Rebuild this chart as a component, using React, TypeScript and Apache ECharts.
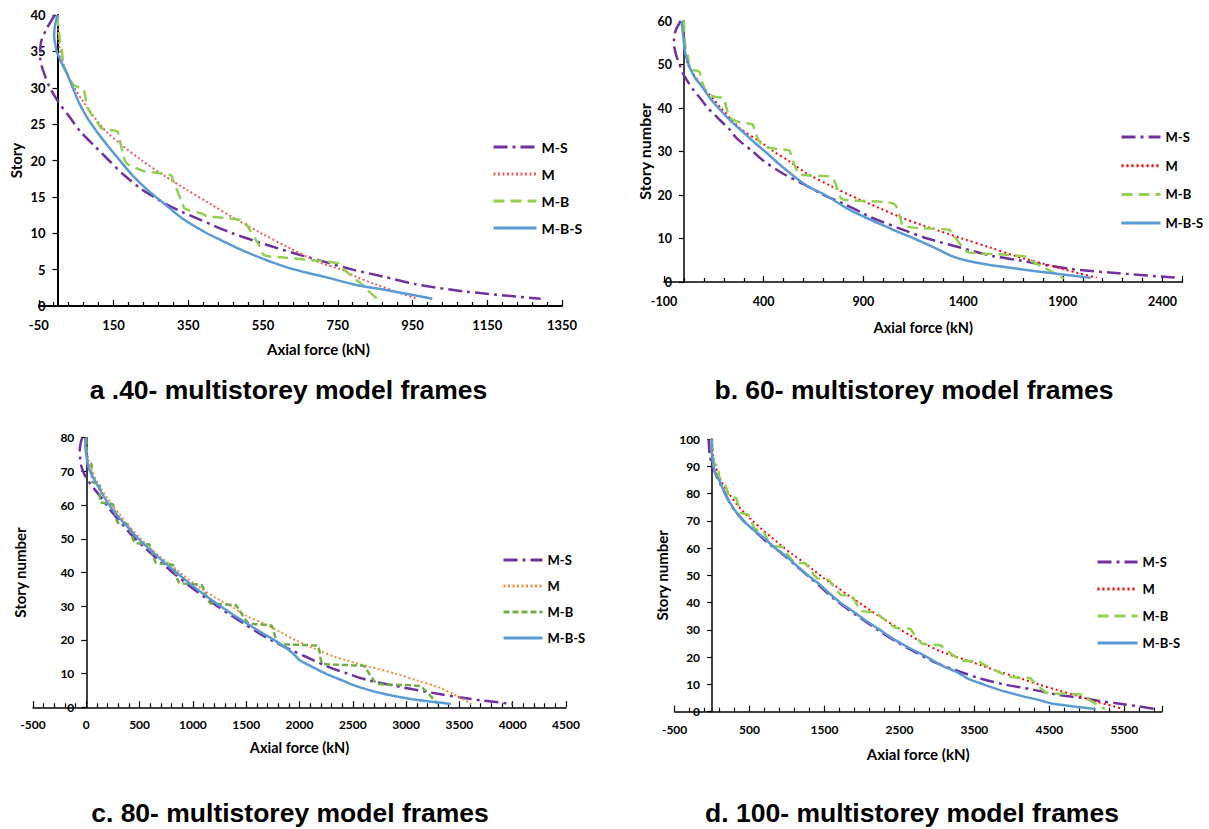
import { useEffect, useRef } from 'react';
import * as echarts from 'echarts';

// ---------- DATA: each pair is [story, axial force (kN)] ----------
const SERIES_NAMES = ['M-S', 'M', 'M-B', 'M-B-S'];
const PANEL_KEYS = ['a', 'b', 'c', 'd'];
const PANEL_TITLES = [
  'a .40- multistorey model frames',
  'b. 60- multistorey model frames',
  'c. 80- multistorey model frames',
  'd. 100- multistorey model frames',
];
const Y_NAMES = ['Story', 'Story number', 'Story number', 'Story number'];
const X_NAME = 'Axial force (kN)';
const X_MIN = [-50, -100, -500, -500];
const X_MAX = [1350, 2500, 4500, 6000];
const X_INTERVAL = [200, 500, 500, 1000];
const X_SHOW_MAX_LABEL = [true, false, true, false];
const Y_MAX = [40, 60, 80, 100];
const Y_INTERVAL = [5, 10, 10, 10];

// Panel a (40 storeys)
const a_MS = [[40,-7],[38,-30],[36,-45],[34,-46],[32,-36],[30,-20],[28,3],[26,32],[24,61],[22,99],[20,138],[18,178],[16,226],[15,258],[14,290],[13,330],[12,375],[11,420],[10,468],[9,525],[8,585],[7,650],[6,720],[5,790],[4,875],[3,958],[2,1090],[1,1293]];
const a_M = [[40,0],[38,2],[36,4],[34,12],[32,25],[30,45],[28,70],[26,98],[24,130],[22,175],[20,226],[18,283],[16,345],[14,410],[12,475],[10,545],[8,620],[6,700],[5,760],[4,800],[3,850],[2,905],[1,961]];
const a_MB = [[40,0],[38,3],[36,8],[35,12],[33,17],[31,35],[30.3,45],[29.8,69],[28,77],[27,83],[25,110],[24.4,118],[24,160],[23.3,164],[20.5,178],[19.6,185],[18.7,222],[18.5,232],[18,303],[17.3,309],[14,335],[13.4,340],[12.7,386],[12.4,398],[11.8,495],[11.5,502],[8.2,541],[7,553],[6.7,600],[6.3,680],[5.9,749],[5.5,755],[2.7,821],[2.3,827],[1,855]];
const a_MBS = [[40,0],[39,-5],[38,-8],[37,-9],[36,-6],[35,-2],[34,6],[33,15],[32,25],[31,33],[30,41],[28,57],[26,78],[24,105],[22,135],[20,167],[18,200],[16,240],[14,287],[12,335],[10,400],[9,440],[8,480],[7,525],[6,575],[5,635],[4,715],[3,790],[2,900],[1,1003]];

// Panel b (60 storeys)
const b_MS = [[60,-15],[58,-40],[56,-50],[54,-48],[52,-38],[50,-22],[48,-5],[46,20],[44,50],[42,86],[40,120],[38,163],[35,230],[33,265],[30,345],[28,395],[25,494],[22,620],[20,700],[18,800],[16,890],[15,930],[14,985],[12,1100],[10,1220],[8,1380],[6,1545],[5,1680],[4,1800],[3,1940],[2,2180],[1,2470]];
const b_M = [[60,0],[57,1],[54,3],[52,8],[50,20],[48,45],[46,75],[44,110],[42,148],[40,185],[37,245],[35,290],[32,390],[30,450],[28,520],[25,615],[22,740],[20,830],[17,980],[15,1080],[13,1200],[10,1395],[8,1530],[6,1660],[4,1820],[3,1900],[2,1980],[1,2070]];
const b_MB = [[60,0],[57,2],[54,8],[52,20],[49.5,27],[48.8,40],[48.4,76],[47.5,84],[45.5,95],[44,110],[42.8,140],[42.2,200],[41.5,205],[38.7,222],[37.5,240],[36.8,275],[36.2,345],[35.5,350],[33.5,365],[31.8,385],[30.8,435],[30.2,530],[29.5,535],[25,572],[24.6,595],[24.3,725],[23.8,748],[19.4,786],[18.9,800],[18.4,1000],[17.8,1058],[14.2,1088],[13,1097],[12.5,1150],[12,1330],[11.5,1340],[7.3,1409],[6.8,1430],[6.3,1600],[5.8,1720],[5.3,1725],[2,1860],[0.8,1905]];
const b_MBS = [[60,-12],[57,-5],[55,0],[53,5],[50,23],[47,55],[45,89],[42,135],[40,173],[37,235],[35,284],[32,355],[30,407],[27,480],[25,533],[22,620],[20,708],[17,815],[15,903],[13,1000],[12,1050],[10,1155],[8,1250],[6,1340],[5,1410],[4,1520],[3,1680],[2,1850],[1,2040]];

// Panel c (80 storeys)
const c_MS = [[80,-40],[78,-55],[76,-62],[74,-58],[72,-50],[70,-30],[68,0],[66,45],[64,95],[62,145],[60,190],[57,265],[55,320],[52,400],[50,460],[47,560],[45,630],[42,740],[40,810],[37,930],[35,1010],[32,1140],[30,1230],[27,1370],[25,1470],[22,1620],[20,1730],[17,1920],[15,2060],[12,2270],[10,2450],[8,2650],[6,2950],[4,3300],[3,3500],[2,3720],[1,4000]];
const c_M = [[80,0],[77,5],[75,10],[72,30],[70,55],[67,100],[65,135],[62,200],[60,245],[57,320],[55,365],[52,450],[50,510],[47,610],[45,680],[42,800],[40,880],[37,1000],[35,1090],[32,1240],[30,1360],[27,1510],[25,1660],[22,1840],[20,1960],[17,2170],[15,2330],[14,2430],[12,2660],[10,2900],[8,3100],[6,3300],[4,3440],[3,3500],[2,3560],[1,3610]];
const c_MB = [[80,0],[77,3],[74,8],[73,12],[72.7,25],[72.3,45],[71.8,50],[67,55],[66.7,70],[66.3,120],[65.8,125],[61,130],[60.7,150],[60.3,245],[59.8,255],[55,290],[54.7,305],[54.3,390],[53.8,400],[49,450],[48.7,480],[48.3,590],[47.8,600],[43,650],[42.7,690],[42.3,810],[41.8,820],[37,870],[36.7,920],[36.3,1080],[35.8,1090],[31,1160],[30.7,1210],[30.3,1405],[29.8,1415],[25,1520],[24.7,1570],[24.3,1735],[23.8,1745],[19,1800],[18.7,1860],[18.3,2170],[17.8,2180],[13,2215],[12.7,2290],[12.3,2600],[11.8,2615],[7.2,2720],[6.8,2780],[6.4,3120],[5.9,3150],[1,3300]];
const c_MBS = [[80,-10],[77,-8],[75,0],[72,15],[70,36],[67,85],[65,120],[62,175],[60,215],[57,290],[55,345],[52,430],[50,490],[47,590],[45,660],[42,770],[40,845],[37,960],[35,1040],[32,1170],[30,1260],[27,1400],[25,1500],[22,1650],[20,1760],[17,1900],[15,1970],[14,2000],[12,2120],[10,2245],[8,2400],[6,2560],[4,2790],[3,2950],[2,3150],[1,3420]];

// Panel d (100 storeys)
const d_MS = [[100,-45],[97,-40],[94,-30],[91,-5],[88,35],[85,80],[82,140],[78,210],[75,270],[70,420],[66,580],[62,740],[58,930],[54,1100],[50,1270],[46,1440],[42,1600],[38,1790],[34,2000],[30,2210],[26,2440],[22,2700],[18,2980],[15,3270],[12,3600],[10,3900],[8,4300],[6,4650],[5,4950],[4,5150],[3,5420],[2,5680],[1,5920]];
const d_M = [[100,0],[97,5],[94,15],[91,35],[88,70],[85,115],[82,175],[79,250],[76,330],[73,430],[70,540],[67,660],[64,790],[61,920],[58,1060],[55,1210],[52,1350],[49,1490],[46,1650],[43,1800],[40,1960],[37,2120],[34,2290],[31,2460],[28,2640],[25,2830],[22,3060],[19,3380],[17,3590],[15,3800],[12,4140],[10,4360],[8,4600],[6,4850],[4,5090],[2,5350],[1,5480]];
const d_MB = [[100,0],[96,5],[93,15],[91,30],[90.7,45],[90.3,70],[89.8,80],[85,100],[84.7,120],[84.3,160],[83.8,170],[79,225],[78.7,250],[78.3,320],[77.8,330],[73,380],[72.7,410],[72.3,480],[71.8,490],[67,575],[66.7,610],[66.3,680],[65.8,690],[61,780],[60.7,830],[60.3,940],[59.8,950],[55,1090],[54.7,1140],[54.3,1250],[53.8,1260],[49,1400],[48.7,1450],[48.3,1560],[47.8,1570],[43,1710],[42.7,1760],[42.3,1870],[41.8,1880],[37,1990],[36.7,2050],[36.3,2200],[35.8,2210],[31,2430],[30.7,2480],[30.3,2650],[29.8,2660],[25,2800],[24.7,2860],[24.3,3060],[23.8,3070],[19,3310],[18.7,3370],[18.3,3580],[17.8,3590],[13,3940],[12.7,4000],[12.3,4250],[11.8,4260],[7,4460],[6.7,4530],[6.3,4920],[5.8,4940],[1,5240]];
const d_MBS = [[100,-5],[97,-8],[94,0],[90,20],[87,50],[84,110],[80,170],[77,230],[74,300],[70,420],[67,540],[64,680],[60,840],[57,990],[54,1110],[50,1280],[47,1420],[44,1540],[40,1710],[37,1870],[34,2020],[30,2240],[27,2400],[24,2590],[20,2870],[17,3060],[14,3300],[12,3420],[10,3620],[8,3830],[6,4100],[4,4400],[3,4530],[2,4800],[1,5120]];

const PANEL_DATA = [
  [a_MS, a_M, a_MB, a_MBS],
  [b_MS, b_M, b_MB, b_MBS],
  [c_MS, c_M, c_MB, c_MBS],
  [d_MS, d_M, d_MB, d_MBS],
];

// ---------- STYLE / LAYOUT ----------
const COLORS = [
  ['#7030A0', '#F15A5A', '#92D050', '#5B9BD5'],
  ['#7030A0', '#FF0000', '#92D050', '#5B9BD5'],
  ['#7030A0', '#F58A3C', '#70AD47', '#5B9BD5'],
  ['#7030A0', '#FF0000', '#92D050', '#5B9BD5'],
];
const DASHES = [
  [[14, 5, 3, 5], [2, 2.5], [11, 6], 'solid'],
  [[14, 5, 3, 5], [2, 3], [11, 6], 'solid'],
  [[14, 5, 3, 5], [2, 2.5], [6, 3], 'solid'],
  [[14, 5, 3, 5], [2, 3], [11, 6], 'solid'],
];
const WIDTHS = [2.5, 2, 2.5, 2.5];

const LAYOUT = [
  { left: 38.8, top: 15, width: 523.2, height: 291, axisW: 2, tickSize: 13, xLabelMargin: 12, xNameGap: 35, xNameSize: 15, xNamePad: 36, yNameGap: 34, yNameSize: 15,
    legend: { left: 492, top: 140, w: 43, gap: 13, size: 14 }, title: { x: 288.5, top: 376 } },
  { left: 664, top: 21, width: 518.5, height: 261, axisW: 1.5, tickSize: 12.5, xLabelMargin: 13, xNameGap: 38, xNameSize: 14.5, xNamePad: 0, yNameGap: 31, yNameSize: 16,
    legend: { left: 1120, top: 130, w: 39, gap: 14.7, size: 13 }, title: { x: 914, top: 376 } },
  { left: 33, top: 437.7, width: 533, height: 269.6, axisW: 1.5, tickSize: 12, xLabelMargin: 11, xNameGap: 33, xNameSize: 14.5, xNamePad: 0, yNameGap: 59, yNameSize: 15,
    legend: { left: 502, top: 553, w: 39, gap: 12, size: 13 }, title: { x: 290, top: 799 } },
  { left: 674.6, top: 439, width: 487.2, height: 272.7, axisW: 1.5, tickSize: 12, xLabelMargin: 12, xNameGap: 35, xNameSize: 15, xNamePad: 0, yNameGap: 43, yNameSize: 15,
    legend: { left: 1096, top: 555, w: 40, gap: 13, size: 13 }, title: { x: 912, top: 799 } },
];

const FONT = 'Lato, "Open Sans", sans-serif';
const TITLE_FONT = '"Liberation Sans", Arial, sans-serif';

function buildOption() {
  const grid = LAYOUT.map((l) => ({
    left: l.left, top: l.top, width: l.width, height: l.height,
    containLabel: false, outerBoundsMode: 'none',
  }));
  const xAxis = LAYOUT.map((l, i) => ({
    gridIndex: i, type: 'value', min: X_MIN[i], max: X_MAX[i], interval: X_INTERVAL[i],
    axisLine: { show: true, onZero: false, lineStyle: { color: '#000', width: l.axisW } },
    axisTick: { show: true, inside: true, length: 6, lineStyle: { color: '#000', width: 1.2 } },
    minorTick: { show: true, splitNumber: 5, length: 4, lineStyle: { color: '#000', width: 1.2 } },
    splitLine: { show: false }, minorSplitLine: { show: false },
    axisLabel: { margin: l.xLabelMargin, fontFamily: FONT, fontWeight: 'bold', fontSize: l.tickSize, color: '#000',
      showMinLabel: true, showMaxLabel: X_SHOW_MAX_LABEL[i], formatter: (v: number) => String(v) },
    name: X_NAME, nameLocation: 'middle', nameGap: l.xNameGap,
    nameTextStyle: { fontFamily: FONT, fontWeight: 'bold', fontSize: l.xNameSize, color: '#000',
      padding: [0, 0, 0, l.xNamePad] },
  }));
  const yAxis = LAYOUT.map((l, i) => {
    // place the vertical axis on x = 0 of the panel's horizontal scale
    const zeroOffset = ((0 - X_MIN[i]) / (X_MAX[i] - X_MIN[i])) * l.width;
    return {
      gridIndex: i, type: 'value', min: 0, max: Y_MAX[i], interval: Y_INTERVAL[i],
      position: 'left', offset: -zeroOffset,
      axisLine: { show: true, onZero: false, lineStyle: { color: '#000', width: l.axisW } },
      axisTick: { show: true, inside: false, length: 5, lineStyle: { color: '#000', width: 1.2 } },
      splitLine: { show: false },
      axisLabel: { margin: 12, fontFamily: FONT, fontWeight: 'bold', fontSize: l.tickSize, color: '#000',
        formatter: (v: number) => String(v) },
      name: Y_NAMES[i], nameLocation: 'middle', nameGap: l.yNameGap,
      nameTextStyle: { fontFamily: FONT, fontWeight: 'bold', fontSize: l.yNameSize, color: '#000' },
    };
  });
  const series: any[] = [];
  PANEL_DATA.forEach((panel, i) => {
    panel.forEach((arr, j) => {
      series.push({
        type: 'line',
        name: PANEL_KEYS[i] + '|' + SERIES_NAMES[j],
        xAxisIndex: i, yAxisIndex: i,
        data: arr.map((p) => [p[1], p[0]]),
        symbol: 'none', showSymbol: false, smooth: 0.3,
        lineStyle: { color: COLORS[i][j], width: WIDTHS[j], type: DASHES[i][j], cap: 'butt' },
        itemStyle: { color: COLORS[i][j] },
        emphasis: { disabled: true },
        z: 2 + j,
      });
    });
  });
  const legend = LAYOUT.map((l, i) => ({
    orient: 'vertical', left: l.legend.left, top: l.legend.top, padding: 0,
    itemWidth: l.legend.w, itemHeight: 14, itemGap: l.legend.gap,
    selectedMode: false,
    data: SERIES_NAMES.map((n) => PANEL_KEYS[i] + '|' + n),
    formatter: (name: string) => name.split('|')[1],
    itemStyle: { opacity: 0 },
    lineStyle: { width: 3 },
    textStyle: { fontFamily: FONT, fontWeight: 'bold', fontSize: l.legend.size, color: '#000', lineHeight: 14 },
  }));
  const title = LAYOUT.map((l, i) => ({
    text: PANEL_TITLES[i], left: l.title.x, top: l.title.top, textAlign: 'center', padding: 0,
    textStyle: { fontFamily: TITLE_FONT, fontWeight: 'bold', fontSize: 26.5, color: '#000' },
  }));
  return {
    animation: false,
    backgroundColor: '#fff',
    textStyle: { fontFamily: FONT },
    title, legend, grid, xAxis, yAxis, series,
  };
}

export default function App() {
  const ref = useRef<HTMLDivElement>(null);
  useEffect(() => {
    const chart = echarts.init(ref.current as HTMLDivElement, null, { renderer: 'svg' });
    chart.setOption(buildOption() as any);
    return () => chart.dispose();
  }, []);
  return (
    <div
      ref={ref}
      style={{ position: 'absolute', left: 0, top: 0, width: 1209, height: 829, background: '#fff' }}
    />
  );
}
